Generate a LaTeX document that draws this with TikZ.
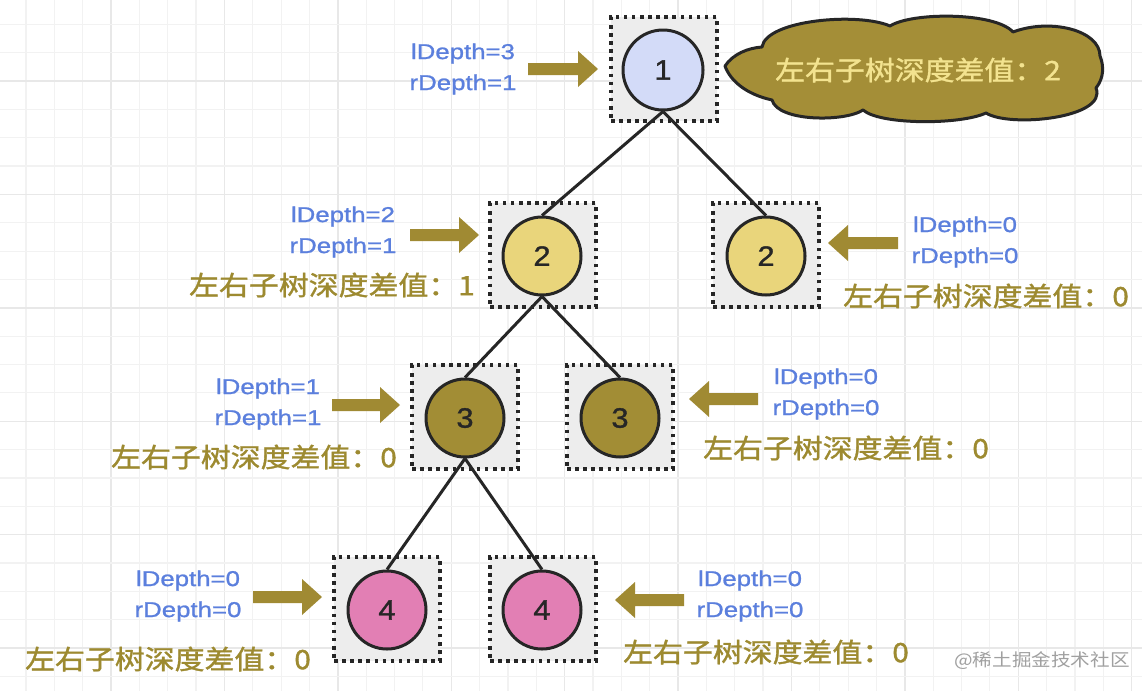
\documentclass[tikz,border=0pt]{standalone}
\usepackage{fontspec}
\setmainfont{Liberation Sans}
\newfontfamily\cjk[FakeStretch=1.12, FakeBold=1.2]{Noto Sans CJK SC}
\newfontfamily\cjkw[FakeStretch=1.12]{Noto Sans CJK SC}
\newfontfamily\latw[FakeStretch=1.2, FakeBold=1.0]{Liberation Sans}
\newfontfamily\digw[FakeStretch=1.1, FakeBold=1.2]{Liberation Sans}
\pgfdeclarelayer{bg}
\pgfdeclarelayer{mid}
\pgfsetlayers{bg,mid,main}
\definecolor{gridc}{HTML}{F2F2F2}
\definecolor{gridd}{HTML}{E8E8E8}
\definecolor{boxfill}{HTML}{EDEDED}
\definecolor{inkc}{HTML}{262626}
\definecolor{lav}{HTML}{D3DBF8}
\definecolor{yel}{HTML}{E9D57B}
\definecolor{oliv}{HTML}{A28D35}
\definecolor{cloudc}{HTML}{A48E37}
\definecolor{pink}{HTML}{E27FB4}
\definecolor{arrowc}{HTML}{A08A33}
\definecolor{olivtext}{HTML}{9D8A30}
\definecolor{bluet}{HTML}{5B7FDD}
\definecolor{cloudtext}{HTML}{F3E38F}
\definecolor{wmark}{HTML}{A0A0A0}
\newcommand\rarrow[3]{\fill[arrowc] (#1,#3-6) -- (#2-20,#3-6) -- (#2-20,#3-18) -- (#2,#3) -- (#2-20,#3+18) -- (#2-20,#3+6) -- (#1,#3+6) -- cycle;}
\newcommand\larrow[3]{\fill[arrowc] (#1,#3-6) -- (#2+20,#3-6) -- (#2+20,#3-18) -- (#2,#3) -- (#2+20,#3+18) -- (#2+20,#3+6) -- (#1,#3+6) -- cycle;}
\begin{document}
\begin{tikzpicture}[x=1pt,y=-1pt,
  dotbox/.style={draw=inkc, fill=boxfill, line width=3.5pt, dash pattern=on 3.5pt off 4.6pt, minimum width=106pt, minimum height=104pt, inner sep=0pt},
  tnode/.style={circle, draw=inkc, line width=3pt, minimum size=78pt, inner sep=0pt, font=\digw\fontsize{28}{28}\selectfont, text=inkc},
  edge/.style={draw=inkc, line width=3pt},
  depth/.style={align=center, text=bluet, font=\latw\fontsize{21.5}{31}\selectfont, inner sep=0pt},
  diff/.style={text=olivtext, font=\cjk\fontsize{26.7}{26.7}\selectfont, inner sep=0pt},
]
\useasboundingbox (0,0) rectangle (1142,691);
\begin{pgfonlayer}{bg}
\fill[white] (0,0) rectangle (1142,691);
\foreach \i in {1,...,41}{
  \pgfmathtruncatemacro\m{mod(\i,4)}
  \ifnum\m=0 \draw[gridd, line width=1.4pt] ({-2.4+\i*28.35},0) -- ({-2.4+\i*28.35},691);
  \else \draw[gridc, line width=1.2pt] ({-2.4+\i*28.35},0) -- ({-2.4+\i*28.35},691); \fi
}
\foreach \j in {2,...,26}{
  \pgfmathtruncatemacro\m{mod(\j,4)}
  \ifnum\m=0 \draw[gridd, line width=1.4pt] (0,{-32.4+\j*28.35}) -- (1142,{-32.4+\j*28.35});
  \else \draw[gridc, line width=1.2pt] (0,{-32.4+\j*28.35}) -- (1142,{-32.4+\j*28.35}); \fi
}
\node[dotbox] (b1) at (664,69) {};
\node[dotbox] (b2a) at (543,255) {};
\node[dotbox] (b2b) at (766,255) {};
\node[dotbox] (b3a) at (465,417) {};
\node[dotbox] (b3b) at (620,417) {};
\node[dotbox] (b4a) at (387,609) {};
\node[dotbox] (b4b) at (543,609) {};
\end{pgfonlayer}
% tree nodes
\node[tnode, fill=lav, minimum size=80pt] (n1) at (663,70) {1};
\node[tnode, fill=yel] (n2a) at (542,256) {2};
\node[tnode, fill=yel] (n2b) at (766,256) {2};
\node[tnode, fill=oliv] (n3a) at (465,418) {3};
\node[tnode, fill=oliv] (n3b) at (620,418) {3};
\node[tnode, fill=pink] (n4a) at (387,610) {4};
\node[tnode, fill=pink] (n4b) at (542,610) {4};
% edges
\begin{pgfonlayer}{mid}
\path[edge] (n1.south) -- (n2a.north);
\path[edge] (n1.south) -- (n2b.north);
\path[edge] (n2a.south) -- (n3a.north);
\path[edge] (n2a.south) -- (n3b.north);
\path[edge] (n3a.south) -- (n4a.north);
\path[edge] (n3a.south) -- (n4b.north);
\end{pgfonlayer}
% arrows
\rarrow{528}{598}{69}
\rarrow{410}{479}{235}
\larrow{898}{828}{243}
\rarrow{332}{400}{405}
\larrow{758}{689}{399}
\rarrow{253}{322}{597}
\larrow{684}{615}{600}
% depth labels
\node[depth] (d1) at (463,69) {lDepth=3\\rDepth=1};
\node[depth] (d2a) at (343,232) {lDepth=2\\rDepth=1};
\node[depth] (d2b) at (965,242) {lDepth=0\\rDepth=0};
\node[depth] (d3a) at (268,404) {lDepth=1\\rDepth=1};
\node[depth] (d3b) at (826,394) {lDepth=0\\rDepth=0};
\node[depth] (d4a) at (188,596) {lDepth=0\\rDepth=0};
\node[depth] (d4b) at (750,596) {lDepth=0\\rDepth=0};
% diff labels
\node[diff] (t2a) at (332,285) {左右子树深度差值：1};
\node[diff] (t2b) at (986,296) {左右子树深度差值：0};
\node[diff] (t3a) at (254,457) {左右子树深度差值：0};
\node[diff] (t3b) at (846,448) {左右子树深度差值：0};
\node[diff] (t4a) at (168,659) {左右子树深度差值：0};
\node[diff] (t4b) at (766,652) {左右子树深度差值：0};
% cloud
\draw[draw=inkc, fill=cloudc, line width=3pt, line join=round]
  (725,66) .. controls (733,54) and (748,48) .. (762,47)
  .. controls (766,20) and (858,12) .. (890,26)
  .. controls (912,12) and (995,12) .. (1013,32)
  .. controls (1050,18) and (1100,30) .. (1100,56)
  .. controls (1104,66) and (1104,78) .. (1096,88)
  .. controls (1108,118) and (1010,128) .. (986,113)
  .. controls (960,125) and (880,125) .. (863,110)
  .. controls (845,122) and (778,122) .. (772,100)
  .. controls (745,94) and (730,80) .. cycle;
\node[diff, text=cloudtext] (tc) at (918,70) {左右子树深度差值：2};
% watermark
\node[text=wmark, font=\cjkw\fontsize{17.5}{17.5}\selectfont, inner sep=0pt] (wm) at (1042,661) {@稀土掘金技术社区};
\end{tikzpicture}
\end{document}
